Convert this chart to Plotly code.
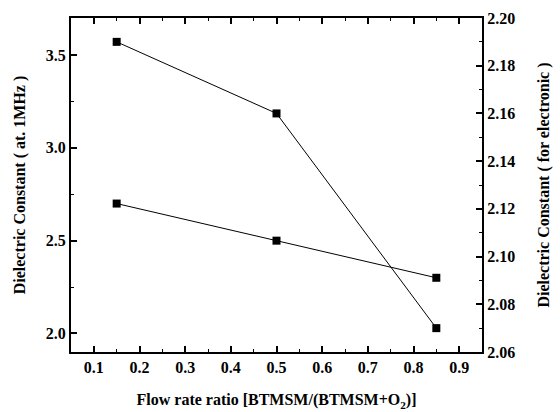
import plotly.graph_objects as go

x_ratio = [0.15, 0.5, 0.85]
k_1mhz = [2.7, 2.5, 2.3]          # left axis
k_electronic = [2.19, 2.16, 2.07]  # right axis

x_ticks = [0.1, 0.2, 0.3, 0.4, 0.5, 0.6, 0.7, 0.8, 0.9]
y_ticks = [2.0, 2.5, 3.0, 3.5]
y2_ticks = [2.06, 2.08, 2.10, 2.12, 2.14, 2.16, 2.18, 2.20]

font_family = "Liberation Serif"

fig = go.Figure()
fig.add_trace(go.Scatter(
    x=x_ratio, y=k_1mhz, mode="lines+markers", yaxis="y",
    line=dict(color="black", width=1),
    marker=dict(symbol="square", size=8, color="black"),
    showlegend=False))
fig.add_trace(go.Scatter(
    x=x_ratio, y=k_electronic, mode="lines+markers", yaxis="y2",
    line=dict(color="black", width=1),
    marker=dict(symbol="square", size=8, color="black"),
    showlegend=False))

tickfont = dict(family=font_family, size=16, color="black")
titlefont = dict(family=font_family, size=16, color="black")

def b(v, fmt):
    return "<b>" + fmt.format(v) + "</b>"

fig.update_layout(
    width=560, height=412,
    margin=dict(l=71, r=78, t=18, b=60),
    paper_bgcolor="white", plot_bgcolor="white",
    xaxis=dict(
        range=[0.05, 0.95], tickmode="array", automargin=False,
        tickvals=x_ticks, ticktext=[b(v, "{:.1f}") for v in x_ticks],
        ticks="inside", ticklen=6, tickwidth=1.5, tickcolor="black",
        minor=dict(ticks="inside", ticklen=3, dtick=0.05, tick0=0.05, tickcolor="black", tickwidth=1),
        showline=True, linecolor="black", linewidth=2, mirror="ticks",
        showgrid=False, zeroline=False, tickfont=tickfont,
        title=dict(text="<b>Flow rate ratio [BTMSM/(BTMSM+O<sub>2</sub>)]</b>", font=titlefont, standoff=19),
    ),
    yaxis=dict(
        range=[1.9, 3.7], tickmode="array", automargin=False,
        tickvals=y_ticks, ticktext=[b(v, "{:.1f}") for v in y_ticks],
        ticks="inside", ticklen=6, tickwidth=1.5, tickcolor="black",
        minor=dict(ticks="inside", ticklen=3, dtick=0.25, tick0=2.0, tickcolor="black", tickwidth=1),
        showline=True, linecolor="black", linewidth=2,
        showgrid=False, zeroline=False, tickfont=tickfont,
        title=dict(text="<b>Dielectric Constant ( at. 1MHz )</b>", font=titlefont, standoff=16),
    ),
    yaxis2=dict(
        range=[2.06, 2.20], overlaying="y", side="right", tickmode="array", automargin=False,
        tickvals=y2_ticks, ticktext=[b(v, "{:.2f}") for v in y2_ticks],
        ticks="inside", ticklen=6, tickwidth=1.5, tickcolor="black",
        minor=dict(ticks="inside", ticklen=3, dtick=0.01, tick0=2.06, tickcolor="black", tickwidth=1),
        showline=True, linecolor="black", linewidth=2,
        showgrid=False, zeroline=False, tickfont=tickfont,
        title=dict(text="<b>Dielectric Constant ( for electronic )</b>", font=titlefont, standoff=24),
    ),
)

fig.write_html("out.html")
